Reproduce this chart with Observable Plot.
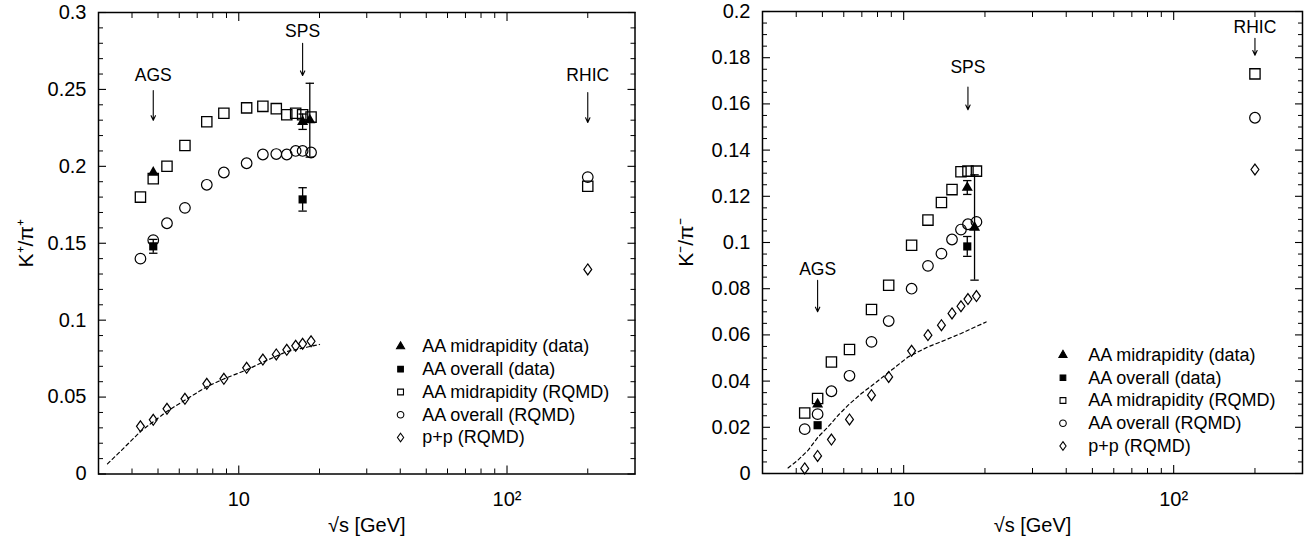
<!DOCTYPE html>
<html>
<head>
<meta charset="utf-8">
<script src="https://cdn.jsdelivr.net/npm/d3@7"></script>
<script src="https://cdn.jsdelivr.net/npm/@observablehq/plot@0.6"></script>
<style>
  html, body { margin: 0; padding: 0; background: #fff; }
  #wrap { display: flex; width: 1312px; height: 548px; }
  #wrap svg { display: block; }
</style>
</head>
<body>
<div id="wrap"></div>
<script>
const FONT = '"Liberation Sans", Arial, Helvetica, sans-serif';

// ---- shared collision energies (sqrt(s) in GeV) ----
const energy = [4.3, 4.8, 5.4, 6.3, 7.6, 8.8, 10.7, 12.3, 13.8, 15.1, 16.3, 17.3, 18.6];
const rhicEnergy = 200;

// ---- left panel: K+/pi+ ----
const kpMidRQMD  = [0.180, 0.192, 0.200, 0.2135, 0.229, 0.2345, 0.238, 0.239, 0.2375, 0.2335, 0.2345, 0.2335, 0.232];
const kpMidRQMDrhic = 0.187;
const kpAllRQMD  = [0.140, 0.152, 0.163, 0.173, 0.188, 0.196, 0.202, 0.2077, 0.208, 0.2077, 0.210, 0.210, 0.209];
const kpAllRQMDrhic = 0.193;
const kpPP       = [0.031, 0.0352, 0.0424, 0.0489, 0.0586, 0.0619, 0.069, 0.0744, 0.0777, 0.0807, 0.0833, 0.0846, 0.0863];
const kpPPrhic = 0.133;
const kpMidDataX = [4.8, 17.3, 18.4];
const kpMidDataY = [0.196, 0.229, 0.230];
const kpMidDataErr = [0, 0.005, 0.024];
const kpAllDataX = [4.8, 17.3];
const kpAllDataY = [0.148, 0.1785];
const kpAllDataErr = [0.0045, 0.0076];
const kpLineX = [3.24, 3.65, 4.31, 5.41, 6.27, 7.62, 8.8, 10.7, 12.3, 15.1, 20.0];
const kpLineY = [0.0066, 0.0153, 0.0278, 0.0408, 0.0478, 0.0569, 0.0618, 0.0677, 0.0727, 0.0796, 0.0842];

// ---- right panel: K-/pi- ----
const kmMidRQMD  = [0.0262, 0.0325, 0.0483, 0.0537, 0.071, 0.0815, 0.0988, 0.1097, 0.1173, 0.1229, 0.1306, 0.1309, 0.1309];
const kmMidRQMDrhic = 0.173;
const kmAllRQMD  = [0.0192, 0.0257, 0.0356, 0.0423, 0.057, 0.066, 0.080, 0.0899, 0.0952, 0.1013, 0.1056, 0.1079, 0.1089];
const kmAllRQMDrhic = 0.154;
const kmPP       = [0.0022, 0.0076, 0.0147, 0.0234, 0.0339, 0.0418, 0.0531, 0.0599, 0.0642, 0.0693, 0.0724, 0.0755, 0.0768];
const kmPPrhic = 0.1316;
const kmMidDataX = [4.8, 17.2, 18.3];
const kmMidDataY = [0.030, 0.1238, 0.1065];
const kmMidDataErr = [0, 0.003, 0.0228];
const kmAllDataX = [4.8, 17.2];
const kmAllDataY = [0.0209, 0.0983];
const kmAllDataErr = [0, 0.0043];
const kmLineX = [3.73, 4.06, 4.43, 4.82, 5.25, 5.72, 6.23, 6.97, 7.81, 9.0, 10.4, 12.3, 14.2, 16.3, 20.2];
const kmLineY = [0.0024, 0.0058, 0.0101, 0.0158, 0.0202, 0.0252, 0.0296, 0.0346, 0.039, 0.0447, 0.0505, 0.0548, 0.0577, 0.0606, 0.0656];

// ---- annotations ----
const annoNames = ["AGS", "SPS", "RHIC"];
const annoX = [4.8, 17.3, 200];
const kpAnnoTextY = [0.259, 0.2877, 0.259];
const kpAnnoArrowY1 = [0.2493, 0.280, 0.248];
const kpAnnoArrowY2 = [0.2299, 0.259, 0.2285];
const kmAnnoTextY = [0.0884, 0.176, 0.193];
const kmAnnoArrowY1 = [0.0836, 0.1673, 0.1884];
const kmAnnoArrowY2 = [0.070, 0.1575, 0.1811];

// ---- ticks ----
const xMajor = [10, 100];
const xTickLabels = ["10", "10\u00B2"];
const xMinor = [4, 5, 6, 7, 8, 9, 20, 30, 40, 50, 60, 70, 80, 90, 200];
const kpYMajor = [0, 0.05, 0.1, 0.15, 0.2, 0.25, 0.3];
const kpYLabels = ["0", "0.05", "0.1", "0.15", "0.2", "0.25", "0.3"];
const kmYMajor = [0, 0.02, 0.04, 0.06, 0.08, 0.1, 0.12, 0.14, 0.16, 0.18, 0.2];
const kmYLabels = ["0", "0.02", "0.04", "0.06", "0.08", "0.1", "0.12", "0.14", "0.16", "0.18", "0.2"];

// ---- legend ----
const legendLabels = ["AA midrapidity (data)", "AA overall (data)", "AA midrapidity (RQMD)", "AA overall (RQMD)", "p+p (RQMD)"];

// ---- symbols ----
const diamondSym = {draw(ctx, size) { const h = Math.sqrt(size / 1.44), w = 0.72 * h;
  ctx.moveTo(0, -h); ctx.lineTo(w, 0); ctx.lineTo(0, h); ctx.lineTo(-w, 0); ctx.closePath(); }};
const capSym = {draw(ctx, size) { const w = Math.sqrt(size / Math.PI);
  ctx.moveTo(-w, 0); ctx.lineTo(w, 0); }};
const legendSymbols = ["triangle", "square", "square", "circle", diamondSym];
const legendFills = ["black", "black", "none", "none", "none"];
const legendR = [3.9, 4.4, 4.7, 4.7, 3.7];

function rqmd(vals, rhic) {
  return energy.map((x, i) => ({x, y: vals[i]})).concat([{x: rhicEnergy, y: rhic}]);
}
function pts(xs, ys, es) { return xs.map((x, i) => ({x, y: ys[i], e: es ? es[i] : 0})); }

function panel(cfg) {
  const mid = rqmd(cfg.mid, cfg.midRhic);
  const all = rqmd(cfg.all, cfg.allRhic);
  const pp = rqmd(cfg.pp, cfg.ppRhic);
  const midData = pts(cfg.midDX, cfg.midDY, cfg.midDE);
  const allData = pts(cfg.allDX, cfg.allDY, cfg.allDE);
  const errs = midData.concat(allData).filter(d => d.e > 0);
  const line = pts(cfg.lineX, cfg.lineY);
  const annos = annoNames.map((t, i) => ({t, x: annoX[i], ty: cfg.annoTY[i], y1: cfg.annoY1[i], y2: cfg.annoY2[i]}));
  const legend = legendLabels.map((label, i) => ({label, i}));
  const yMinor = d3.range(0, Math.round(cfg.yDomain[1] / cfg.minorStep) + 1)
    .map(k => +(k * cfg.minorStep).toFixed(4))
    .filter(v => !cfg.yMajor.some(m => Math.abs(m - v) < 1e-9));
  const yFmt = new Map(cfg.yMajor.map((v, i) => [v, cfg.yLabels[i]]));
  const xFmt = new Map(xMajor.map((v, i) => [v, xTickLabels[i]]));
  const legY = i => cfg.legTop - i * cfg.legStep;

  return Plot.plot({
    width: 656, height: 548,
    marginLeft: cfg.ml, marginRight: cfg.mr, marginTop: cfg.mt, marginBottom: cfg.mb,
    x: {type: "log", domain: [3, 300]},
    y: {domain: cfg.yDomain},
    style: {fontFamily: FONT, fontSize: "20px", color: "black", background: "white", overflow: "visible"},
    marks: [
      Plot.line(line, {x: "x", y: "y", stroke: "black", strokeWidth: 1.2, strokeDasharray: "3.5,3"}),
      Plot.dot(pp, {x: "x", y: "y", symbol: diamondSym, r: 3.7, stroke: "black", fill: "none", strokeWidth: 1.2}),
      Plot.dot(all, {x: "x", y: "y", symbol: "circle", r: 5.3, stroke: "black", fill: "none", strokeWidth: 1.2}),
      Plot.dot(mid, {x: "x", y: "y", symbol: "square", r: 5.8, stroke: "black", fill: "none", strokeWidth: 1.3}),
      Plot.ruleX(errs, {x: "x", y1: d => d.y - d.e, y2: d => d.y + d.e, stroke: "black", strokeWidth: 1.3}),
      Plot.dot(errs, {x: "x", y: d => d.y - d.e, symbol: capSym, r: 4.2, stroke: "black", strokeWidth: 1.3}),
      Plot.dot(errs, {x: "x", y: d => d.y + d.e, symbol: capSym, r: 4.2, stroke: "black", strokeWidth: 1.3}),
      Plot.dot(allData, {x: "x", y: "y", symbol: "square", r: 4.6, fill: "black", stroke: "none"}),
      Plot.dot(midData, {x: "x", y: "y", symbol: "triangle", r: 4.1, fill: "black", stroke: "none"}),
      // annotations
      Plot.text(annos, {x: "x", y: "ty", text: "t", fontSize: 17.5, fill: "black"}),
      Plot.arrow(annos, {x1: "x", x2: "x", y1: "y1", y2: "y2", stroke: "black", strokeWidth: 1.1, headLength: 7, headAngle: 50}),
      // legend
      Plot.dot(legend, {x: cfg.legSymX, y: d => legY(d.i), symbol: d => legendSymbols[d.i], r: d => legendR[d.i],
        fill: d => legendFills[d.i], stroke: "black", strokeWidth: 1.1}),
      Plot.text(legend, {x: cfg.legTextX, y: d => legY(d.i), text: "label", textAnchor: "start", fontSize: 18, fill: "black"}),
      // frame and axes
      Plot.frame({stroke: "black", strokeWidth: 1.5}),
      Plot.axisY({ticks: cfg.yMajor, tickSize: 0, tickPadding: 12, tickFormat: d => yFmt.get(d), label: null, fontSize: 20}),
      Plot.axisY({ticks: cfg.yMajor, tickSize: -8, fill: "none", label: null, strokeWidth: 1.1}),
      Plot.axisY({ticks: yMinor, tickSize: -5, fill: "none", label: null, strokeWidth: 1}),
      Plot.axisY({anchor: "right", ticks: cfg.yMajor, tickSize: -8, fill: "none", label: null, strokeWidth: 1.1}),
      Plot.axisY({anchor: "right", ticks: yMinor, tickSize: -5, fill: "none", label: null, strokeWidth: 1}),
      Plot.axisX({ticks: xMajor, tickSize: 0, tickPadding: 18, tickFormat: d => xFmt.get(d), label: null, fontSize: 20}),
      Plot.axisX({ticks: xMajor, tickSize: -8, fill: "none", label: null, strokeWidth: 1.1}),
      Plot.axisX({ticks: xMinor, tickSize: -5, fill: "none", label: null, strokeWidth: 1}),
      Plot.axisX({anchor: "top", ticks: xMajor, tickSize: -8, fill: "none", label: null, strokeWidth: 1.1}),
      Plot.axisX({anchor: "top", ticks: xMinor, tickSize: -5, fill: "none", label: null, strokeWidth: 1}),
      // axis titles
      Plot.text([cfg.yTitle], {text: d => d, frameAnchor: "left", rotate: -90, textAnchor: "middle", dx: cfg.yTitleDx, fontSize: 21, fill: "black"}),
      Plot.text(["\u221As [GeV]"], {text: d => d, frameAnchor: "bottom", dy: 58, textAnchor: "middle", fontSize: 20, fill: "black"})
    ]
  });
}

const left = panel({
  ml: 98, mr: 21.5, mt: 12, mb: 74.5,
  yDomain: [0, 0.3], yMajor: kpYMajor, yLabels: kpYLabels, minorStep: 0.01,
  mid: kpMidRQMD, midRhic: kpMidRQMDrhic, all: kpAllRQMD, allRhic: kpAllRQMDrhic, pp: kpPP, ppRhic: kpPPrhic,
  midDX: kpMidDataX, midDY: kpMidDataY, midDE: kpMidDataErr,
  allDX: kpAllDataX, allDY: kpAllDataY, allDE: kpAllDataErr,
  lineX: kpLineX, lineY: kpLineY,
  annoTY: kpAnnoTextY, annoY1: kpAnnoArrowY1, annoY2: kpAnnoArrowY2,
  legSymX: 40.1, legTextX: 48.3, legTop: 0.0829, legStep: 0.0148,
  yTitle: "K\u207A/\u03C0\u207A", yTitleDx: -72
});
const right = panel({
  ml: 106, mr: 10, mt: 11, mb: 75,
  yDomain: [0, 0.2], yMajor: kmYMajor, yLabels: kmYLabels, minorStep: 0.005,
  mid: kmMidRQMD, midRhic: kmMidRQMDrhic, all: kmAllRQMD, allRhic: kmAllRQMDrhic, pp: kmPP, ppRhic: kmPPrhic,
  midDX: kmMidDataX, midDY: kmMidDataY, midDE: kmMidDataErr,
  allDX: kmAllDataX, allDY: kmAllDataY, allDE: kmAllDataErr,
  lineX: kmLineX, lineY: kmLineY,
  annoTY: kmAnnoTextY, annoY1: kmAnnoArrowY1, annoY2: kmAnnoArrowY2,
  legSymX: 38.9, legTextX: 48.3, legTop: 0.0513, legStep: 0.00985,
  yTitle: "K\u207B/\u03C0\u207B", yTitleDx: -76
});
const wrap = document.getElementById("wrap");
wrap.appendChild(left);
wrap.appendChild(right);
</script>
</body>
</html>
